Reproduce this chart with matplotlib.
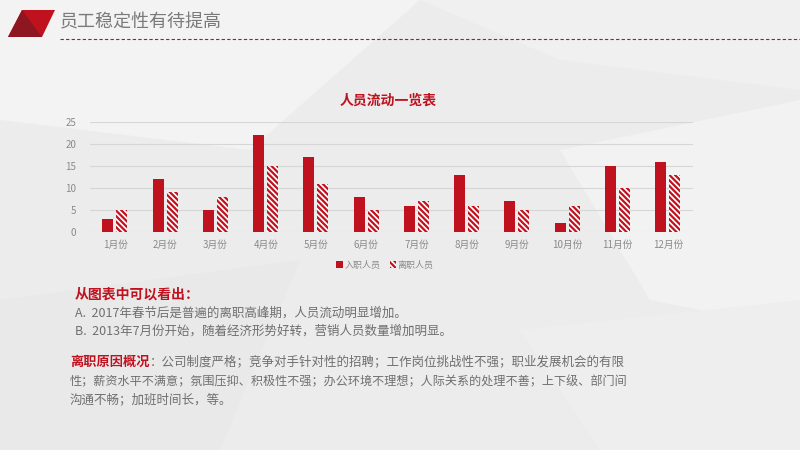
import matplotlib
matplotlib.use("Agg")
import matplotlib.pyplot as plt
from matplotlib.patches import Polygon, Patch
import numpy as np

plt.rcParams['font.family'] = ['Noto Sans CJK SC', 'DejaVu Sans']
plt.rcParams['hatch.linewidth'] = 1.6

months = ['1月份', '2月份', '3月份', '4月份', '5月份', '6月份',
          '7月份', '8月份', '9月份', '10月份', '11月份', '12月份']
joined = [3, 12, 5, 22, 17, 8, 6, 13, 7, 2, 15, 16]
left = [5, 9, 8, 15, 11, 5, 7, 6, 5, 6, 10, 13]
series_names = ['入职人员', '离职人员']
yticks = [0, 5, 10, 15, 20, 25]

RED = '#C0111F'
DARK = '#8E1620'
GREY = '#8a8a8a'
TEXT = '#6f6f6f'
HATCH = '\\' * 6

W, H = 800, 450
fig = plt.figure(figsize=(8, 4.5), dpi=100)
fig.patch.set_facecolor('#ECECED')

# background: faint geometric facets
bg = fig.add_axes([0, 0, 1, 1])
bg.set_xlim(0, W)
bg.set_ylim(H, 0)
bg.axis('off')
facets = [
    ([(0, 0), (420, 0), (250, 150), (0, 120)], '#F3F3F4'),
    ([(420, 0), (800, 0), (800, 90), (560, 60)], '#F0F0F1'),
    ([(560, 150), (800, 100), (800, 330), (650, 300)], '#F2F2F3'),
    ([(0, 300), (300, 260), (220, 450), (0, 450)], '#E9E9EA'),
    ([(520, 330), (800, 300), (800, 450), (600, 450)], '#EEEEEF'),
]
for pts, c in facets:
    bg.add_patch(Polygon(pts, closed=True, facecolor=c, edgecolor='none'))

# header
bg.add_patch(Polygon([(22, 10), (55, 10), (42, 37), (8, 37)], closed=True,
                     facecolor=RED, edgecolor='none'))
bg.add_patch(Polygon([(22, 10), (42, 37), (8, 37)], closed=True,
                     facecolor=DARK, edgecolor='none'))
bg.text(60, 22, '员工稳定性有待提高', fontsize=13, color='#7a7a7a',
        va='center', ha='left')
bg.plot([60, 800], [39, 39], color=RED, lw=0.8, ls=(0, (3, 2)))

# chart
ax = fig.add_axes([90 / W, 1 - 232 / H, 603 / W, 110 / H])
ax.set_facecolor('none')
x = np.arange(len(months))
ax.bar(x - 0.145, joined, width=0.22, color=RED, zorder=3)
ax.bar(x + 0.135, left, width=0.22, facecolor='white', edgecolor=RED,
       hatch=HATCH, linewidth=0, zorder=3)
ax.set_xlim(-0.5, len(months) - 0.5)
ax.set_ylim(0, 25)
ax.set_yticks(yticks)
ax.set_xticks(x)
ax.set_xticklabels(months)
ax.tick_params(length=0, labelsize=7, labelcolor=GREY, pad=6)
ax.tick_params(axis='y', pad=10)
for s in ax.spines.values():
    s.set_visible(False)
ax.yaxis.grid(True, color='#d6d6d6', lw=0.8, zorder=0)
ax.set_axisbelow(True)

fig.text(388 / W, 1 - 101 / H, '人员流动一览表', fontsize=10, color=RED,
         fontweight='bold', ha='center', va='center')

handles = [Patch(facecolor=RED, edgecolor='none'),
           Patch(facecolor='white', edgecolor=RED, hatch=HATCH, linewidth=0)]
fig.legend(handles, series_names, loc='center', bbox_to_anchor=(385 / W, 1 - 265 / H),
           ncol=2, frameon=False, fontsize=6.5, labelcolor=GREY,
           handlelength=0.7, handleheight=0.7, handletextpad=0.2, columnspacing=1.0)

# notes
bg.text(75, 295, '从图表中可以看出：', fontsize=10, color=RED, fontweight='bold',
        va='center', ha='left')
bg.text(75, 313, 'A.  2017年春节后是普遍的离职高峰期，人员流动明显增加。',
        fontsize=9, color=TEXT, va='center', ha='left')
bg.text(75, 331, 'B.  2013年7月份开始，随着经济形势好转，营销人员数量增加明显。',
        fontsize=9, color=TEXT, va='center', ha='left')

t1 = bg.text(70, 362, '离职原因概况', fontsize=9.5, color=RED, fontweight='bold',
             va='center', ha='left')
bg.annotate('：公司制度严格；竞争对手针对性的招聘；工作岗位挑战性不强；职业发展机会的有限',
            xy=(1, 0.5), xycoords=t1, fontsize=9, color=TEXT, va='center', ha='left')
bg.text(70, 382, '性；薪资水平不满意；氛围压抑、积极性不强；办公环境不理想；人际关系的处理不善；上下级、部门间',
        fontsize=8.7, color=TEXT, va='center', ha='left')
bg.text(70, 400, '沟通不畅；加班时间长，等。', fontsize=9, color=TEXT,
        va='center', ha='left')

fig.savefig('out.png', dpi=100, facecolor=fig.get_facecolor())
